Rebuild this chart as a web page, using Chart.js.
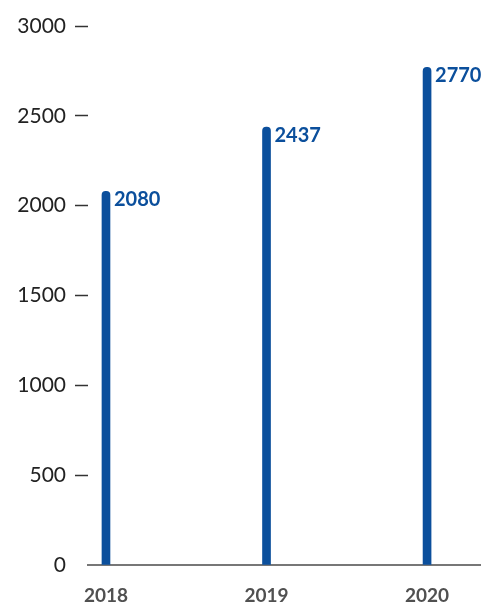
<!DOCTYPE html>
<html>
<head>
<meta charset="utf-8">
<script src="https://cdn.jsdelivr.net/npm/chart.js@4"></script>
<style>
  html, body { margin: 0; padding: 0; background: #fff; }
  #wrap { width: 481px; height: 604px; position: relative; }
</style>
</head>
<body>
<div id="wrap"><canvas id="chart"></canvas></div>
<script>
const years = ['2018', '2019', '2020'];
const values = [2080, 2437, 2770];
const yTicks = [0, 500, 1000, 1500, 2000, 2500, 3000];

const barBlue = '#0b4f9c';

// value next to the top of each bar
const valueLabels = {
  id: 'valueLabels',
  afterDatasetsDraw(chart) {
    const ctx = chart.ctx;
    const meta = chart.getDatasetMeta(0);
    ctx.save();
    ctx.font = 'bold 20px Lato';
    ctx.fillStyle = barBlue;
    ctx.textBaseline = 'middle';
    ctx.textAlign = 'left';
    meta.data.forEach((bar, i) => {
      ctx.fillText(values[i], bar.x + bar.width / 2 + 4, bar.y + 8);
    });
    ctx.restore();
  }
};

new Chart(document.getElementById('chart'), {
  type: 'bar',
  data: {
    datasets: [{
      data: values.map((v, i) => ({ x: i, y: v })),
      backgroundColor: barBlue,
      barThickness: 8,
      borderRadius: 4,
      borderSkipped: 'start'
    }]
  },
  options: {
    responsive: true,
    maintainAspectRatio: false,
    animation: false,
    layout: { padding: { top: 26, right: 0, bottom: 0, left: 0 } },
    plugins: { legend: { display: false }, tooltip: { enabled: false } },
    scales: {
      x: {
        type: 'linear',
        offset: false,
        min: -0.112,
        max: 2.336,
        afterBuildTicks: s => { s.ticks = years.map((y, i) => ({ value: i })); },
        afterFit: s => { s.height = 39; },
        grid: { drawOnChartArea: false, drawTicks: false, offset: false },
        border: { display: true, color: '#777', width: 2 },
        ticks: {
          padding: 19,
          callback: v => years[v],
          font: { family: 'Lato', size: 19, weight: 'bold' },
          color: '#505050'
        }
      },
      y: {
        min: 0,
        max: 3000,
        afterBuildTicks: s => { s.ticks = yTicks.map(v => ({ value: v })); },
        afterFit: s => { s.width = 88; },
        grid: {
          drawOnChartArea: false,
          drawTicks: true,
          tickLength: 13,
          tickWidth: 1.5,
          tickColor: c => (c.tick && c.tick.value === 0) ? 'rgba(0,0,0,0)' : '#333'
        },
        border: { display: false },
        ticks: {
          padding: 9,
          callback: v => String(v),
          font: { family: 'Lato', size: 21 },
          color: '#222'
        }
      }
    }
  },
  plugins: [valueLabels]
});
</script>
</body>
</html>
